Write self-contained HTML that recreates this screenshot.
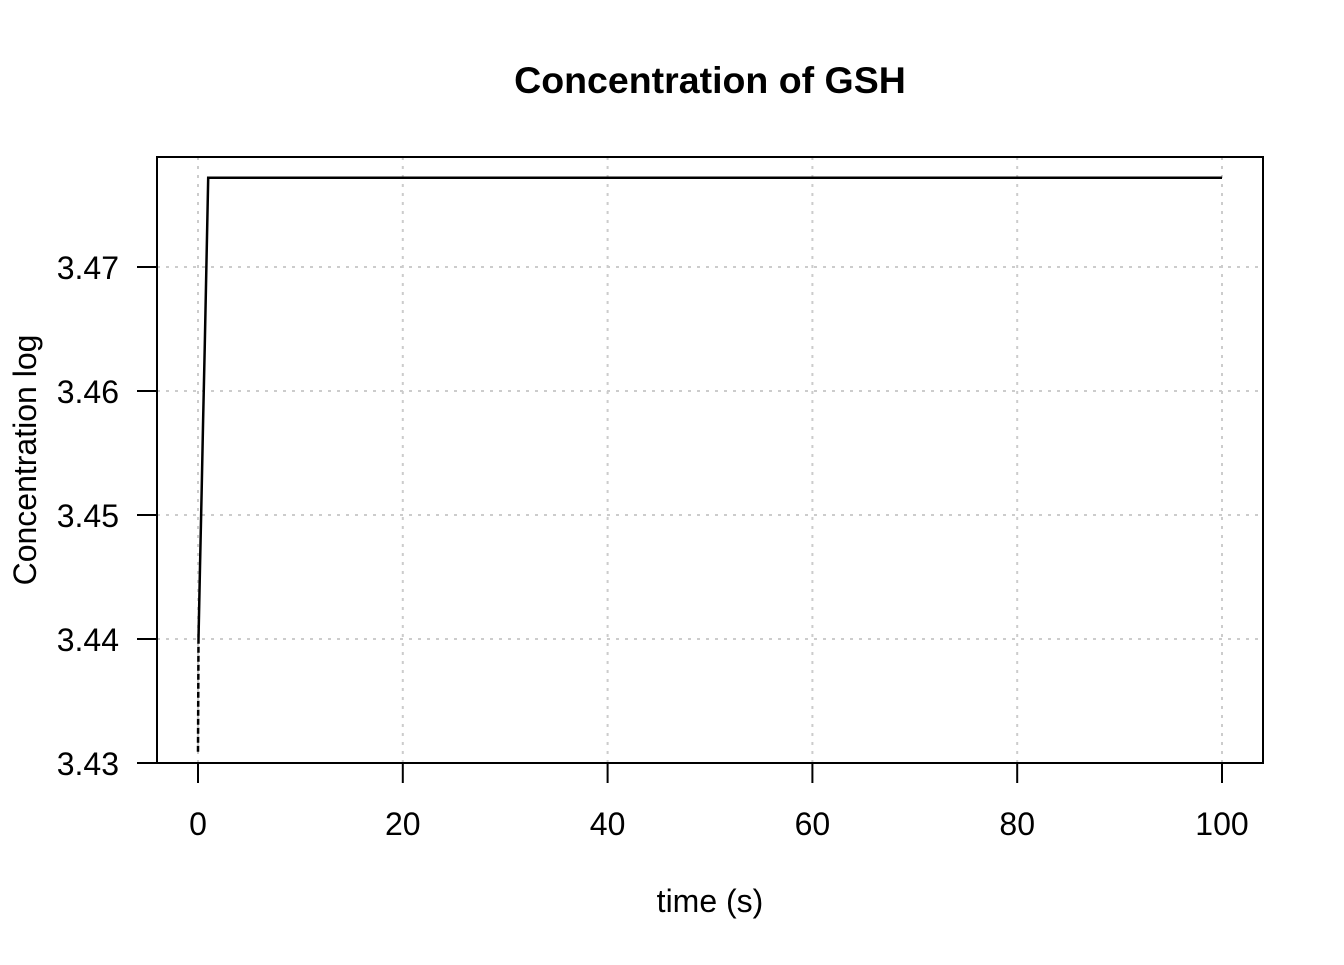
<!DOCTYPE html>
<html><head><meta charset="utf-8"><style>
body{margin:0;background:#fff;}
svg text{font-family:"Liberation Sans",Arial,sans-serif;}
</style></head><body>
<svg id="chart" width="1344" height="960" xmlns="http://www.w3.org/2000/svg">
<text x="710" y="93" text-anchor="middle" font-size="37.5" font-weight="bold">Concentration of GSH</text>
<g id="grid"></g>
<g id="axes"></g>
<g id="series"></g>
<rect x="157" y="157" width="1106" height="606" fill="none" stroke="#000" stroke-width="2"/>
<text x="710" y="912" text-anchor="middle" font-size="32">time (s)</text>
<text transform="translate(36,460) rotate(-90)" text-anchor="middle" font-size="32">Concentration log</text>
</svg>
<script>
const xTicks=[0,20,40,60,80,100];
const yTicks=[3.43,3.44,3.45,3.46,3.47];
const yTickLabels=["3.43","3.44","3.45","3.46","3.47"];
const solidT=[0.05,0.2,0.35,0.5,0.65,0.8,0.95,1.0,100];
const solidV=[3.44,3.4458,3.4517,3.4576,3.4634,3.4693,3.4752,3.4772,3.4772];
const dashedT=[0,0.05];
const dashedV=[3.4309,3.44];
const baseT=[-4,104];
const baseV=[3.43,3.43];
const X=t=>198+t*10.24;
const Y=v=>763-(v-3.43)*12400;
const NS="http://www.w3.org/2000/svg";
function mk(tag,attrs,parent){const e=document.createElementNS(NS,tag);for(const k in attrs)e.setAttribute(k,attrs[k]);document.getElementById(parent).appendChild(e);return e;}
xTicks.forEach(t=>{
 const g=mk('line',{x1:X(t),x2:X(t),y1:157,y2:763,stroke:'#ccc','stroke-width':2,'stroke-dasharray':'3,6'},'grid');
 
 
 const tk=mk('line',{x1:X(t),x2:X(t),y1:763,y2:783,stroke:'#000','stroke-width':2},'axes');
 
 
 const tx=mk('text',{x:X(t),y:835,'text-anchor':'middle','font-size':32},'axes');
 tx.textContent=String(t);
 
 
});
yTicks.forEach((v,i)=>{
 const g=mk('line',{x1:157,x2:1263,y1:Y(v),y2:Y(v),stroke:'#ccc','stroke-width':2,'stroke-dasharray':'3,6'},'grid');
 
 
 const tk=mk('line',{x1:137,x2:157,y1:Y(v),y2:Y(v),stroke:'#000','stroke-width':2},'axes');
 
 
 const tx=mk('text',{x:119,y:Y(v)+12,'text-anchor':'end','font-size':32},'axes');
 tx.textContent=yTickLabels[i];
 
 
});
function path(T,V){return T.map((t,i)=>(i?'L':'M')+X(t).toFixed(1)+','+Y(V[i]).toFixed(1)).join(' ');}
const s=mk('path',{d:path(solidT,solidV),fill:'none',stroke:'#000','stroke-width':2.5},'series');


const d=mk('path',{d:path(dashedT,dashedV),fill:'none',stroke:'#000','stroke-width':2.5,'stroke-dasharray':'6,3'},'series');


const b=mk('path',{d:path(baseT,baseV),fill:'none',stroke:'#000','stroke-width':1.5,'stroke-dasharray':'6,3'},'series');


</script>
</body></html>
